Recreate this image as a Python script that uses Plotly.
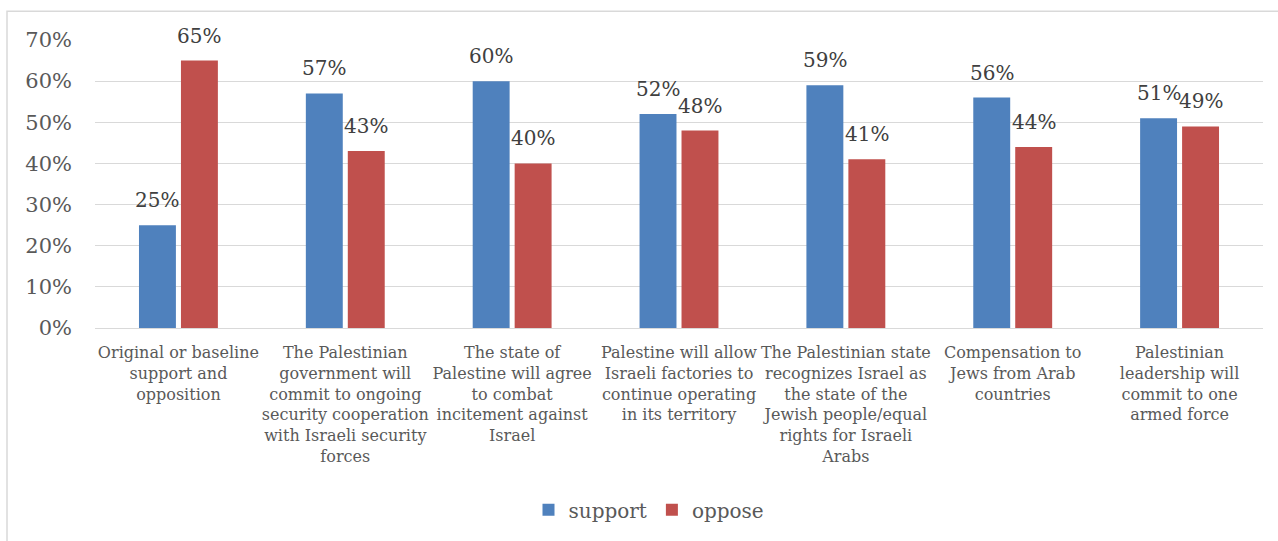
import plotly.graph_objects as go

categories = [
    "Original or baseline<br>support and<br>opposition",
    "The Palestinian<br>government will<br>commit to ongoing<br>security cooperation<br>with Israeli security<br>forces",
    "The state of<br>Palestine will agree<br>to combat<br>incitement against<br>Israel",
    "Palestine will allow<br>Israeli factories to<br>continue operating<br>in its territory",
    "The Palestinian state<br>recognizes Israel as<br>the state of the<br>Jewish people/equal<br>rights for Israeli<br>Arabs",
    "Compensation to<br>Jews from Arab<br>countries",
    "Palestinian<br>leadership will<br>commit to one<br>armed force",
]
support = [25, 57, 60, 52, 59, 56, 51]
oppose = [65, 43, 40, 48, 41, 44, 49]
y_ticks = [0, 10, 20, 30, 40, 50, 60, 70]

FONT = "DejaVu Serif"
x = list(range(len(categories)))

W, H = 1278, 541
L, R, T, B = 95, 15, 40, 211
pw, ph = W - L - R, H - T - B
cat_px = pw / len(categories)
BARGAP, GROUPGAP = 0.497, 0.12
slot_px = cat_px * (1 - BARGAP) / 2

fig = go.Figure()
annotations = []
series = [("support", support, "#4F81BD"), ("oppose", oppose, "#C0504D")]
for k, (name, vals, color) in enumerate(series):
    fig.add_trace(go.Bar(
        name=name,
        x=x,
        y=[v / 100 for v in vals],
        marker=dict(color=color, line=dict(width=0)),
    ))
    # value labels sit above each bar, centred on it
    shift = (k - 0.5) * slot_px
    for xi, v in zip(x, vals):
        annotations.append(dict(
            x=xi, y=v / 100, xref="x", yref="y",
            text=f"{v}%", showarrow=False,
            xanchor="center", yanchor="bottom",
            xshift=shift, yshift=11,
            font=dict(family=FONT, size=20, color="#404040"),
        ))

fig.update_layout(
    width=W, height=H,
    margin=dict(l=L, r=R, t=T, b=B),
    paper_bgcolor="white",
    plot_bgcolor="white",
    barmode="group",
    bargap=BARGAP,
    bargroupgap=GROUPGAP,
    font=dict(family=FONT, color="#595959"),
    showlegend=True,
    annotations=annotations,
    legend=dict(
        orientation="h",
        x=0.5 - 30 / pw, xanchor="center",
        y=(T + ph - 513) / ph, yanchor="middle",
        font=dict(family=FONT, size=20, color="#595959"),
        itemwidth=30,
        traceorder="normal",
    ),
    xaxis=dict(
        tickmode="array",
        tickvals=x,
        ticktext=categories,
        tickfont=dict(family=FONT, size=16, color="#595959"),
        showgrid=False,
        showline=False,
        ticks="",
        range=[-0.5, len(categories) - 0.5],
        ticklabelstandoff=13,
    ),
    yaxis=dict(
        range=[0, 0.7],
        tickvals=[t / 100 for t in y_ticks],
        ticktext=[f"{t}%" for t in y_ticks],
        tickfont=dict(family=FONT, size=21, color="#595959"),
        showgrid=True,
        gridcolor="#d9d9d9",
        gridwidth=1,
        zeroline=True,
        zerolinecolor="#d9d9d9",
        zerolinewidth=1,
        showline=False,
        ticks="",
        ticklabelstandoff=22,
    ),
    shapes=[dict(
        type="rect", xref="paper", yref="paper",
        x0=(7 - L) / pw, x1=1.2,
        y0=-1.0, y1=1 + (T - 11) / ph,
        line=dict(color="#d9d9d9", width=1.5),
        fillcolor="rgba(0,0,0,0)",
        layer="below",
    )],
)

fig.write_html("out.html")
